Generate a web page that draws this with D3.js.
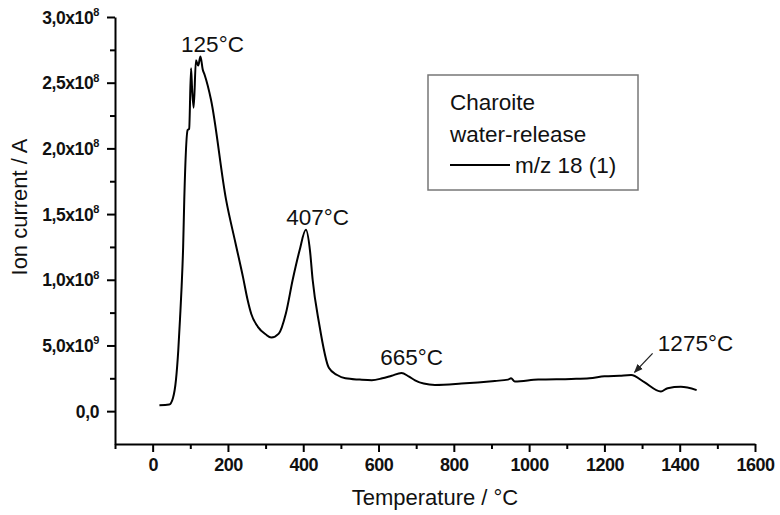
<!DOCTYPE html>
<html>
<head>
<meta charset="utf-8">
<script src="https://cdn.jsdelivr.net/npm/d3@7"></script>
<style>
  body { margin: 0; background: #fff; }
  svg { font-family: "Liberation Sans", Arial, sans-serif; }
</style>
</head>
<body>
<div id="chart"></div>
<script>
// temperature in °C, ion current in units of 1e-9 A
var temperature = [18, 44, 54, 62, 68, 73, 77, 81, 84, 93, 97, 102, 105, 109, 115, 121, 127, 133, 138, 155, 195,
    220, 240, 252, 262, 280, 300, 315, 335, 354, 372, 390, 407, 418, 425, 442, 468, 490, 512, 550, 582, 610,
    635, 661, 680, 697, 720, 750, 820, 909, 944, 952, 962, 1024, 1112, 1160, 1200, 1240, 1271,
    1306, 1350, 1368, 1403, 1445];
var current = [0.45, 0.5, 1.0, 2.4, 4.6, 7.2, 9.5, 12.5, 16.1, 21.4, 21.5, 26.1, 24.4, 23.1, 26.7, 26.3, 27.0, 26.0, 25.6, 23.7, 16.1,
    12.8, 10.2, 8.5, 7.4, 6.4, 5.85, 5.6, 5.9, 7.45, 10.0, 12.2, 13.8, 12.2, 10.0, 6.7, 3.3, 2.75, 2.5, 2.4, 2.35, 2.5,
    2.7, 2.9, 2.65, 2.35, 2.1, 2.0, 2.1, 2.3, 2.4, 2.5, 2.25, 2.4, 2.45, 2.5, 2.65, 2.7, 2.75,
    2.2, 1.5, 1.75, 1.85, 1.6];

var xMajor = [0, 200, 400, 600, 800, 1000, 1200, 1400, 1600];
var xMinor = [-100, 100, 300, 500, 700, 900, 1100, 1300, 1500];
var yMajor = [0, 5, 10, 15, 20, 25, 30];
var yMinor = [2.5, 7.5, 12.5, 17.5, 22.5, 27.5];

var peakLabels = [
    {text: "125°C", t: 159, v: 27.3, anchor: "middle"},
    {text: "407°C", t: 438, v: 14.15, anchor: "middle"},
    {text: "665°C", t: 688, v: 3.5, anchor: "middle"},
    {text: "1275°C", t: 1342, v: 4.6, anchor: "start"}
];

var width = 780, height = 515;
var margin = {top: 17, right: 25, bottom: 71, left: 115};
var fontFam = "Liberation Sans, Arial, sans-serif";

var svg = d3.select("#chart").append("svg")
    .attr("width", width)
    .attr("height", height);

var x = d3.scaleLinear().domain([-100, 1600]).range([margin.left, width - margin.right]);
var y = d3.scaleLinear().domain([-2.5, 30]).range([height - margin.bottom, margin.top]);

// x axis
var gx = svg.append("g")
    .attr("transform", "translate(0," + y(-2.5) + ")")
    .call(d3.axisBottom(x).tickValues(xMajor).tickSize(8).tickSizeOuter(0).tickPadding(6).tickFormat(d3.format("d")));
gx.attr("font-family", fontFam);
gx.select(".domain").attr("stroke-width", 2);
gx.selectAll(".tick line").attr("stroke-width", 2);
gx.selectAll("text")
    .attr("font-size", 18)
    .attr("font-weight", "bold")
    .attr("letter-spacing", -0.5)
    .attr("fill", "#111");

var gxm = svg.append("g")
    .attr("transform", "translate(0," + y(-2.5) + ")")
    .call(d3.axisBottom(x).tickValues(xMinor).tickSize(5).tickSizeOuter(0).tickFormat(""));
gxm.select(".domain").remove();
gxm.selectAll(".tick line").attr("stroke-width", 2);

// y axis
var gy = svg.append("g")
    .attr("transform", "translate(" + x(-100) + ",0)")
    .call(d3.axisLeft(y).tickValues(yMajor).tickSize(8).tickSizeOuter(0).tickPadding(7).tickFormat(""));
gy.attr("font-family", fontFam);
gy.select(".domain").attr("stroke-width", 2);
gy.selectAll(".tick line").attr("stroke-width", 2);

var gym = svg.append("g")
    .attr("transform", "translate(" + x(-100) + ",0)")
    .call(d3.axisLeft(y).tickValues(yMinor).tickSize(5).tickSizeOuter(0).tickFormat(""));
gym.select(".domain").remove();
gym.selectAll(".tick line").attr("stroke-width", 2);

// y tick labels like "2,5x10^8"
gy.selectAll(".tick").each(function(d) {
    var t = d3.select(this).select("text")
        .attr("x", -16)
        .attr("dy", "0.35em")
        .attr("font-size", 17.5)
        .attr("font-weight", "bold")
        .attr("letter-spacing", -0.4)
        .attr("fill", "#111")
        .attr("text-anchor", "end")
        .text(null);
    if (d === 0) {
        t.append("tspan").text("0,0");
        return;
    }
    var exp = d >= 10 ? 8 : 9;
    var mant = d >= 10 ? d / 10 : d;
    t.append("tspan").text(mant.toFixed(1).replace(".", ",") + "x10");
    t.append("tspan").attr("font-size", 11).attr("dy", "-0.7em").text(exp);
});

// axis titles
svg.append("text")
    .attr("x", (x(-100) + x(1600)) / 2)
    .attr("y", 505)
    .attr("text-anchor", "middle")
    .attr("font-size", 22)
    .attr("fill", "#111")
    .text("Temperature / °C");

svg.append("text")
    .attr("transform", "translate(27," + 207 + ") rotate(-90)")
    .attr("text-anchor", "middle")
    .attr("font-size", 22)
    .attr("fill", "#111")
    .text("Ion current / A");

// curve
var line = d3.line()
    .x(function(d, i) { return x(temperature[i]); })
    .y(function(d) { return y(d); })
    .curve(d3.curveMonotoneX);

svg.append("path")
    .datum(current)
    .attr("fill", "none")
    .attr("stroke", "#000")
    .attr("stroke-width", 2)
    .attr("stroke-linejoin", "round")
    .attr("d", line);

// peak labels
svg.selectAll(".peak")
    .data(peakLabels)
    .enter().append("text")
    .attr("class", "peak")
    .attr("x", function(d) { return x(d.t); })
    .attr("y", function(d) { return y(d.v); })
    .attr("text-anchor", function(d) { return d.anchor; })
    .attr("font-size", 22.5)
    .attr("fill", "#111")
    .text(function(d) { return d.text; });

// arrow for 1275°C
svg.append("defs").append("marker")
    .attr("id", "arr")
    .attr("viewBox", "0 0 10 10")
    .attr("refX", 9).attr("refY", 5)
    .attr("markerWidth", 9).attr("markerHeight", 9)
    .attr("markerUnits", "userSpaceOnUse")
    .attr("orient", "auto")
    .append("path").attr("d", "M0,1 L10,5 L0,9 Z").attr("fill", "#222");

svg.append("line")
    .attr("x1", x(1328)).attr("y1", y(4.4))
    .attr("x2", x(1280)).attr("y2", y(2.95))
    .attr("stroke", "#222")
    .attr("stroke-width", 1.3)
    .attr("marker-end", "url(#arr)");

// legend
var lg = svg.append("g").attr("transform", "translate(428,75)");
lg.append("rect")
    .attr("width", 210).attr("height", 115)
    .attr("fill", "#fff")
    .attr("stroke", "#777")
    .attr("stroke-width", 1.5);
lg.append("text").attr("x", 22).attr("y", 35).attr("font-size", 22.5).attr("fill", "#111").text("Charoite");
lg.append("text").attr("x", 22).attr("y", 67).attr("font-size", 22.5).attr("fill", "#111").text("water-release");
lg.append("line").attr("x1", 22).attr("x2", 82).attr("y1", 90).attr("y2", 90)
    .attr("stroke", "#000").attr("stroke-width", 2);
lg.append("text").attr("x", 87).attr("y", 98).attr("font-size", 22.5).attr("fill", "#111").text("m/z 18 (1)");
</script>
</body>
</html>
